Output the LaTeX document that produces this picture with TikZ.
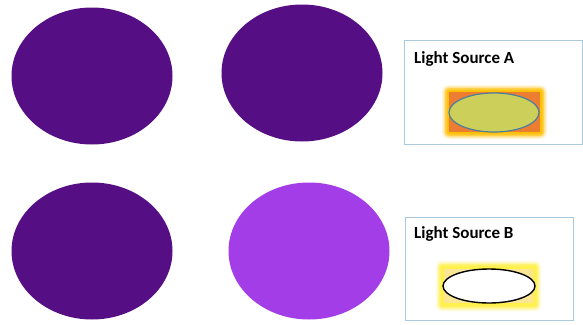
\documentclass[tikz,border=0pt]{standalone}
\usepackage{fontspec}
\setmainfont{Carlito}
\definecolor{darkpurple}{HTML}{560E85}
\definecolor{lightpurple}{HTML}{A33DE8}
\definecolor{boxblue}{HTML}{A9C9E0}
\definecolor{glowA}{HTML}{FFC000}
\definecolor{rectA}{HTML}{ED7D31}
\definecolor{ellA}{HTML}{CCD05A}
\definecolor{ellAedge}{HTML}{4A7FA0}
\definecolor{glowB}{HTML}{FFF04A}
\definecolor{rectB}{HTML}{F9E2B4}
\tikzset{
  x=1pt, y=-1pt,
  disc/.style={ellipse, draw=none, minimum width=161pt, minimum height=137pt, inner sep=0pt},
  panel/.style={draw=boxblue, line width=0.9pt, fill=white},
  title/.style={font=\bfseries\fontsize{17}{19}\selectfont, anchor=base west, inner sep=0pt},
}
\usetikzlibrary{shapes.geometric}
\begin{document}
\begin{tikzpicture}
\useasboundingbox (0,0) rectangle (583,324);
\fill[white] (0,0) rectangle (583,324);
% discs
\node[disc, fill=darkpurple] (d1) at (92,76) {};
\node[disc, fill=darkpurple] (d2) at (302,73) {};
\node[disc, fill=darkpurple] (d3) at (92,251) {};
\node[disc, fill=lightpurple] (d4) at (309,251) {};
% panel A
\node[panel, minimum width=178pt, minimum height=104pt, anchor=north west, inner sep=0pt] (pA) at (404,40) {};
\node[title] (tA) at (414,63) {Light Source A};
\foreach \g/\o in {7/0.15,5.5/0.3,4/0.5,2.5/0.75,1.2/0.95}{
  \fill[glowA, opacity=\o, rounded corners=\g pt] (449-\g,92-\g) rectangle (540+\g,132+\g);
}
\fill[rectA] (449,92) rectangle (540,132);
\node[ellipse, draw=ellAedge, line width=1.2pt, fill=ellA, minimum width=90pt, minimum height=39pt, inner sep=0pt] (eA) at (494,112.5) {};
% panel B
\node[panel, minimum width=168pt, minimum height=103pt, anchor=north west, inner sep=0pt] (pB) at (405,217) {};
\node[title] (tB) at (414,238) {Light Source B};
\foreach \g/\o in {6/0.2,4.5/0.35,3/0.55,1.5/0.8,0/1}{
  \fill[glowB, opacity=\o, rounded corners=\g pt] (442-\g,267-\g) rectangle (535+\g,305+\g);
}
\fill[rectB, opacity=0.7] (444,269) rectangle (533,303);
\node[ellipse, draw=black, line width=1.4pt, fill=white, minimum width=92pt, minimum height=34pt, inner sep=0pt] (eB) at (489,286) {};
\end{tikzpicture}
\end{document}
